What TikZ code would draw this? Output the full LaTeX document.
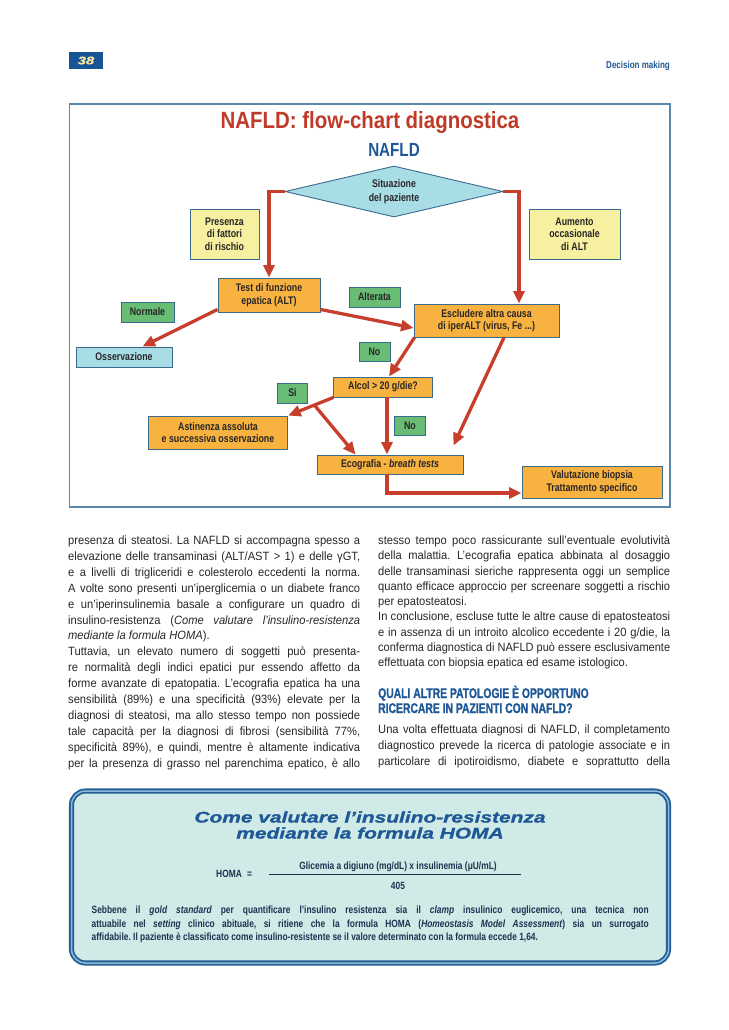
\documentclass[tikz,border=0pt]{standalone}
\usepackage{fontspec}
\usepackage{graphicx}
\setmainfont{Liberation Sans}
\newfontfamily\bodyf[FakeStretch=0.93]{Liberation Sans}
\newfontfamily\cndf[FakeStretch=0.8]{Liberation Sans}
\newfontfamily\titf[FakeStretch=0.87]{Liberation Sans}
\newfontfamily\hdf[FakeStretch=0.74,FakeBold=1.2]{Liberation Sans}
\newfontfamily\widef[FakeStretch=1.35,FakeBold=1.3]{Liberation Sans}
\usetikzlibrary{arrows.meta,shapes.geometric,calc}
\definecolor{boxorange}{RGB}{248,178,64}
\definecolor{boxyellow}{RGB}{246,240,160}
\definecolor{boxgreen}{RGB}{104,188,116}
\definecolor{boxcyan}{RGB}{168,221,230}
\definecolor{edgeblue}{RGB}{58,106,140}
\definecolor{framblue}{RGB}{90,135,170}
\definecolor{arrred}{RGB}{200,62,45}
\definecolor{titred}{RGB}{192,58,40}
\definecolor{navy}{RGB}{30,88,150}
\definecolor{txt}{RGB}{40,38,38}
\definecolor{homafill}{RGB}{208,234,232}
\definecolor{homaline}{RGB}{35,95,150}
\definecolor{homalight}{RGB}{140,185,215}
\definecolor{homatxt}{RGB}{28,50,80}
\definecolor{pgblue}{RGB}{22,84,150}
\definecolor{pageyellow}{RGB}{240,228,160}
\newdimen\cw
\hbadness=10000
\frenchspacing
\newcommand\jusline[1]{\setbox0=\hbox{#1}\ifdim\wd0>\cw\hbox{\resizebox{\cw}{\height}{\box0}}\else\hbox to\cw{#1}\fi}
\newcommand\lastline[1]{\hbox to\cw{#1\hfil}}
\tikzset{
 fbox/.style={draw=edgeblue, line width=0.9pt, inner sep=1pt, align=center, text=txt,
   font=\cndf\bfseries\fontsize{11}{12.5}\selectfont},
 obox/.style={fbox, fill=boxorange},
 ybox/.style={fbox, fill=boxyellow},
 gbox/.style={fbox, fill=boxgreen},
 cbox/.style={fbox, fill=boxcyan},
 arr/.style={draw=arrred, line width=3.3pt, -{Triangle[length=12.5pt,width=11pt]}},
 bodytext/.style={anchor=base west, inner sep=0pt, text=txt, font=\bodyf\frenchspacing\fontsize{12}{15.9}\selectfont},
}
\begin{document}
\begin{tikzpicture}[x=1pt,y=-1pt]
\useasboundingbox (0,0) rectangle (728,1030);
% header
\node[fill=pgblue, minimum width=34pt, minimum height=17pt, inner sep=0pt, text=pageyellow,
  font=\widef\bfseries\itshape\fontsize{11}{12}\selectfont] (pg) at (86,60.5) {38};
\node[anchor=base east, inner sep=0pt, text=navy, font=\cndf\bfseries\fontsize{10}{12}\selectfont] (sect) at (670,68.5) {Decision making};
% frame
\draw[framblue, line width=1.4pt] (69.5,104) rectangle (670,507);
\node[text=titred, font=\titf\bfseries\fontsize{23.5}{26}\selectfont, inner sep=0pt] (title) at (370,122) {NAFLD: flow-chart diagnostica};
\node[text=navy, font=\cndf\bfseries\fontsize{19}{22}\selectfont, inner sep=0pt] (nafld) at (394,150) {NAFLD};
% nodes
\node[diamond, draw=edgeblue, fill=boxcyan, line width=0.9pt, aspect=4.2, minimum width=218pt, minimum height=51pt,
  inner sep=0pt, align=center, text=txt, font=\cndf\bfseries\fontsize{11}{13.5}\selectfont] (sit) at (394,191.5) {Situazione\\del paziente};
\node[ybox, minimum width=69pt, minimum height=50pt] (pres) at (224.5,234) {Presenza\\di fattori\\di rischio};
\node[ybox, minimum width=91pt, minimum height=50pt] (aum) at (574.5,234) {Aumento\\occasionale\\di ALT};
\node[obox, minimum width=102pt, minimum height=34pt] (test) at (269,295) {Test di funzione\\epatica (ALT)};
\node[gbox, minimum width=51pt, minimum height=20pt] (alter) at (374.5,297) {Alterata};
\node[gbox, minimum width=53pt, minimum height=20pt] (norm) at (147.5,312) {Normale};
\node[obox, minimum width=145pt, minimum height=33pt] (escl) at (486.5,320.5) {Escludere altra causa\\di iperALT (virus, Fe ...)};
\node[cbox, minimum width=96pt, minimum height=20pt] (osserv) at (124,357) {Osservazione};
\node[gbox, minimum width=31pt, minimum height=19pt] (no1) at (374.5,351.5) {No};
\node[obox, minimum width=98.5pt, minimum height=20pt] (alcol) at (383,387) {Alcol > 20 g/die?};
\node[gbox, minimum width=30pt, minimum height=20pt] (si) at (292.5,393) {Si};
\node[obox, minimum width=139.5pt, minimum height=33pt] (astin) at (218,432.5) {Astinenza assoluta\\e successiva osservazione};
\node[gbox, minimum width=31pt, minimum height=19pt] (no2) at (410,425.5) {No};
\node[obox, minimum width=146pt, minimum height=19pt] (ecog) at (390,464.5) {Ecografia - \textit{breath tests}};
\node[obox, minimum width=140pt, minimum height=32pt] (valut) at (592,482) {Valutazione biopsia\\Trattamento specifico};
% connectors
\draw[arr] (sit.west) -| (test.north);
\draw[arr] (sit.east) -| ($(escl.north)+(32.5,0)$);
\draw[arr] ([yshift=3pt]test.south west) -- ([xshift=18.5pt]osserv.north);
\draw[arr] ([yshift=3pt]test.south east) -- ([yshift=-7.5pt]escl.west);
\draw[arr] ([xshift=1pt]escl.south west) -- ([xshift=6pt]alcol.north);
\draw[arr] ([xshift=17.5pt]escl.south) -- ($(ecog.north east)+(-10,-9)$);
\draw[arr] (alcol.south west) -- (astin.north east);
\coordinate (br) at ($(alcol.south west)!0.42!(astin.north east)$);
\draw[arr] (br) -- ($(ecog.north west)+(39,0)$);
\coordinate (vx) at ($(ecog.north)+(-3,0)$);
\draw[arr] (vx |- alcol.south) -- (vx);
\draw[arr] ($(ecog.south)+(-3,0)$) |- ([yshift=-11pt]valut.west);
% left column
\node[bodytext] (lcol) at (68,544.5) {\vtop{\cw=292pt
\jusline{presenza di steatosi. La NAFLD si accompagna spesso a}
\jusline{elevazione delle transaminasi (ALT/AST > 1) e delle γGT,}
\jusline{e a livelli di trigliceridi e colesterolo eccedenti la norma.}
\jusline{A volte sono presenti un’iperglicemia o un diabete franco}
\jusline{e un’iperinsulinemia basale a configurare un quadro di}
\jusline{insulino-resistenza (\textit{Come valutare l’insulino-resistenza}}
\lastline{\textit{mediante la formula HOMA}).}
\jusline{Tuttavia, un elevato numero di soggetti può presenta-}
\jusline{re normalità degli indici epatici pur essendo affetto da}
\jusline{forme avanzate di epatopatia. L’ecografia epatica ha una}
\jusline{sensibilità (89\%) e una specificità (93\%) elevate per la}
\jusline{diagnosi di steatosi, ma allo stesso tempo non possiede}
\jusline{tale capacità per la diagnosi di fibrosi (sensibilità 77\%,}
\jusline{specificità 89\%), e quindi, mentre è altamente indicativa}
\jusline{per la presenza di grasso nel parenchima epatico, è allo}}};
% right column
\node[bodytext, font=\bodyf\frenchspacing\fontsize{12}{15.25}\selectfont] (rcol) at (378,544.5) {\vtop{\cw=292pt
\jusline{stesso tempo poco rassicurante sull’eventuale evolutività}
\jusline{della malattia. L’ecografia epatica abbinata al dosaggio}
\jusline{delle transaminasi sieriche rappresenta oggi un semplice}
\jusline{quanto efficace approccio per screenare soggetti a rischio}
\lastline{per epatosteatosi.}
\jusline{In conclusione, escluse tutte le altre cause di epatosteatosi}
\jusline{e in assenza di un introito alcolico eccedente i 20 g/die, la}
\jusline{conferma diagnostica di NAFLD può essere esclusivamente}
\lastline{effettuata con biopsia epatica ed esame istologico.}}};
\node[anchor=base west, inner sep=0pt, text=navy, align=left, font=\hdf\bfseries\fontsize{14}{15}\selectfont] (head) at (378,713) {QUALI ALTRE PATOLOGIE È OPPORTUNO\\RICERCARE IN PAZIENTI CON NAFLD?};
\node[bodytext] (rcol2) at (378,733.5) {\vtop{\cw=292pt
\jusline{Una volta effettuata diagnosi di NAFLD, il completamento}
\jusline{diagnostico prevede la ricerca di patologie associate e in}
\jusline{particolare di ipotiroidismo, diabete e soprattutto della}}};
% HOMA box
\draw[rounded corners=14pt, fill=homafill, draw=homaline, line width=1.8pt, double=homalight, double distance=1.5pt] (71.5,791) rectangle (668.5,963);
\node[text=navy, align=center, inner sep=0pt, font=\widef\bfseries\itshape\fontsize{15.5}{16}\selectfont] (htitle) at (370,825) {Come valutare l’insulino-resistenza\\mediante la formula HOMA};
\node[anchor=base west, inner sep=0pt, text=homatxt, font=\cndf\bfseries\fontsize{10.5}{12}\selectfont] (homa) at (216,877) {HOMA\enspace =};
\node[anchor=base, inner sep=0pt, text=homatxt, font=\cndf\bfseries\fontsize{10.5}{12}\selectfont] (num) at (398,869) {Glicemia a digiuno (mg/dL) x insulinemia (μU/mL)};
\node[anchor=base, inner sep=0pt, text=homatxt, font=\cndf\bfseries\fontsize{10.5}{12}\selectfont] (den) at (398,889) {405};
\draw[homatxt, line width=0.8pt] (269,874) -- (521,874);
\node[anchor=base west, inner sep=0pt, text=homatxt, font=\cndf\bfseries\frenchspacing\fontsize{10.5}{13.5}\selectfont] (hpar) at (91.5,913.5) {\vtop{\cw=557pt
\jusline{Sebbene il \textit{gold standard} per quantificare l’insulino resistenza sia il \textit{clamp} insulinico euglicemico, una tecnica non}
\jusline{attuabile nel \textit{setting} clinico abituale, si ritiene che la formula HOMA (\textit{Homeostasis Model Assessment}) sia un surrogato}
\lastline{affidabile. Il paziente è classificato come insulino-resistente se il valore determinato con la formula eccede 1,64.}}};
\end{tikzpicture}
\end{document}
